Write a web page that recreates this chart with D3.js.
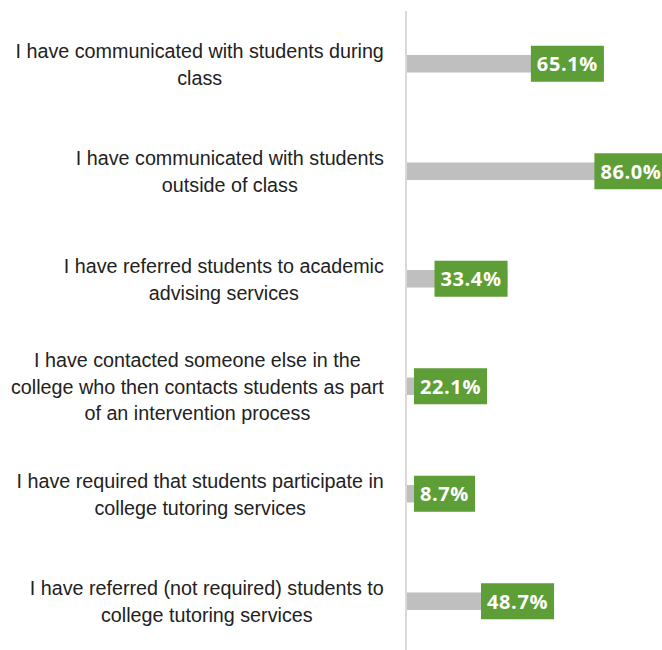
<!DOCTYPE html>
<html>
<head>
<meta charset="utf-8">
<script src="https://cdn.jsdelivr.net/npm/d3@7"></script>
<style>
  html, body { margin: 0; padding: 0; background: #fff; overflow: hidden; }
  svg { display: block; }
</style>
</head>
<body>
<svg id="chart" width="662" height="650"></svg>
<script>
// Survey items (line breaks as wrapped in the chart) and the share of respondents, in %
const categories = [
  "I have communicated with students during\nclass",
  "I have communicated with students\noutside of class",
  "I have referred students to academic\nadvising services",
  "I have contacted someone else in the\ncollege who then contacts students as part\nof an intervention process",
  "I have required that students participate in\ncollege tutoring services",
  "I have referred (not required) students to\ncollege tutoring services"
];
const values = [65.1, 86.0, 33.4, 22.1, 8.7, 48.7];
const valueLabels = ["65.1%", "86.0%", "33.4%", "22.1%", "8.7%", "48.7%"];

const W = 662, H = 650;
const axisX = 406;
const svg = d3.select("#chart");

const x = d3.scaleLinear().domain([0, 100]).range([axisX, axisX + 304]);
const y = d3.scaleBand()
  .domain(categories)
  .range([10, 655])
  .paddingInner(0.837)
  .paddingOuter(0.4185);

// Bars
svg.append("g").selectAll("rect")
  .data(values)
  .join("rect")
  .attr("x", x(0))
  .attr("y", (d, i) => y(categories[i]))
  .attr("width", d => x(d) - x(0))
  .attr("height", y.bandwidth())
  .attr("fill", "#bfbfbf");

// Vertical category axis line
svg.append("line")
  .attr("x1", axisX).attr("x2", axisX)
  .attr("y1", 11).attr("y2", H + 5)
  .attr("stroke", "#d9d9d9")
  .attr("stroke-width", 2);

// Category labels: each block centred on itself, right-aligned next to the axis
const labelRight = 384, sx = 0.94, lineH = 26.6;
const catG = svg.append("g");
categories.forEach((c, i) => {
  const lines = c.split("\n");
  const cy = y(c) + y.bandwidth() / 2;
  const t = catG.append("text")
    .attr("font-family", "'Liberation Sans', Arial, sans-serif")
    .attr("font-size", 21)
    .attr("fill", "#222")
    .attr("text-anchor", "middle");
  lines.forEach((ln, j) => {
    t.append("tspan")
      .attr("x", 0)
      .attr("y", (j - (lines.length - 1) / 2) * lineH + 7.5)
      .text(ln);
  });
  const w = t.node().getBBox().width;
  t.attr("transform", `translate(${labelRight - w * sx / 2},${cy}) scale(${sx},1)`);
});

// Value labels in green boxes at the bar end
const lblG = svg.append("g");
values.forEach((v, i) => {
  const cy = y(categories[i]) + y.bandwidth() / 2;
  const g = lblG.append("g");
  const rect = g.append("rect").attr("fill", "#5e9e36");
  const t = g.append("text")
    .attr("font-family", "'Open Sans', 'Noto Sans', sans-serif")
    .attr("font-weight", 700)
    .attr("font-size", 20)
    .attr("letter-spacing", 0.6)
    .attr("fill", "#fff")
    .attr("text-anchor", "middle")
    .text(valueLabels[i]);
  const tw = t.node().getComputedTextLength();
  const bw = tw + 12, bh = 36;
  const left = Math.max(x(v) - bw, axisX + 8);
  rect.attr("x", left).attr("y", cy - bh / 2).attr("width", bw).attr("height", bh);
  t.attr("x", left + bw / 2).attr("y", cy + 7.5);
});
</script>
</body>
</html>
